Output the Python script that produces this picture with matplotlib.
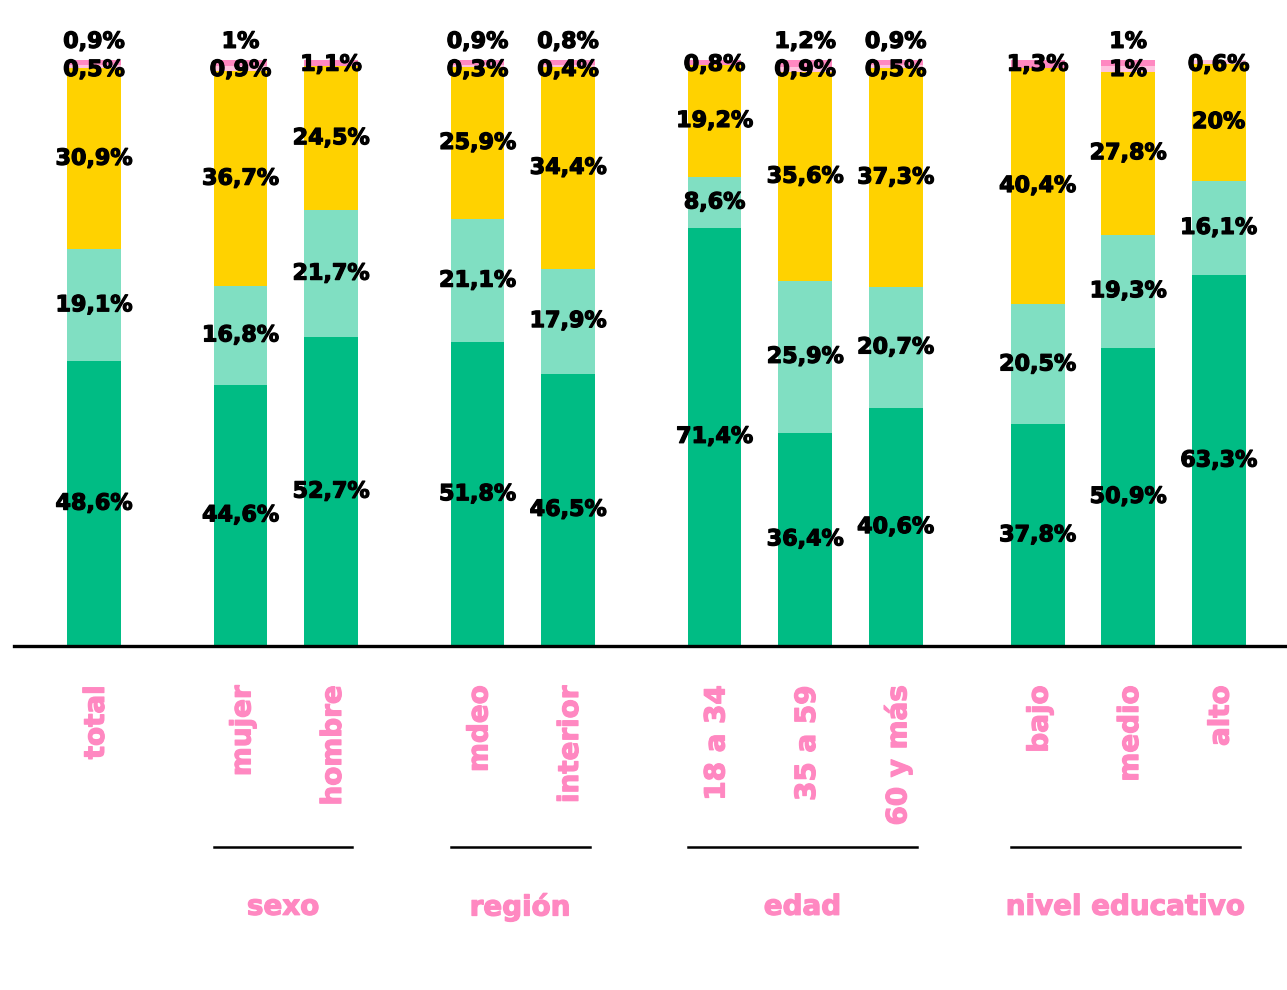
import matplotlib
matplotlib.use("Agg")
import matplotlib.pyplot as plt
import matplotlib.patheffects as pe
from matplotlib.transforms import blended_transform_factory

categories = ["total", "mujer", "hombre", "mdeo", "interior",
              "18 a 34", "35 a 59", "60 y más", "bajo", "medio", "alto"]
group_of = [None, "sexo", "sexo", "región", "región",
            "edad", "edad", "edad", "nivel educativo", "nivel educativo", "nivel educativo"]
groups = ["sexo", "región", "edad", "nivel educativo"]

s_green = [48.6, 44.6, 52.7, 51.8, 46.5, 71.4, 36.4, 40.6, 37.8, 50.9, 63.3]
s_lgreen = [19.1, 16.8, 21.7, 21.1, 17.9, 8.6, 25.9, 20.7, 20.5, 19.3, 16.1]
s_yellow = [30.9, 36.7, 24.5, 25.9, 34.4, 19.2, 35.6, 37.3, 40.4, 27.8, 20.0]
s_lpink = [0.5, 0.9, 0.0, 0.3, 0.4, 0.0, 0.9, 0.5, 0.0, 1.0, 0.6]
s_pink = [0.9, 1.0, 1.1, 0.9, 0.8, 0.8, 1.2, 0.9, 1.3, 1.0, 0.0]

series = [s_green, s_lgreen, s_yellow, s_lpink, s_pink]
colors = ["#00BC84", "#80DFC2", "#FFD200", "#FFC2DE", "#FF88C1"]
PINK = "#FF88C1"

def fmt(v):
    s = f"{v:.1f}".rstrip("0").rstrip(".")
    return s.replace(".", ",") + "%"

# positions: step 1 within a group, wider gap between groups
pos = []
x = 0.0
prev = None
for i, g in enumerate(group_of):
    if i > 0:
        if g == prev:
            x += 0.995
        else:
            x += 1.56 if g == "nivel educativo" else 1.61
    pos.append(x)
    prev = g

W, H = 1287, 990
fig = plt.figure(figsize=(W / 100, H / 100), dpi=100)
ax = fig.add_axes([14 / W, (H - 646) / H, (W - 14) / W, 586 / H])
bw = 0.59
ax.set_xlim(-0.88, 13.11)
ax.set_ylim(0, 100)

FONT = "DejaVu Sans"
VSIZE = 16.0
black_fx = [pe.withStroke(linewidth=0.9, foreground="black")]
pink_fx = [pe.withStroke(linewidth=0.9, foreground=PINK)]

def vlabel(xv, yv, s):
    ax.text(xv, yv, s, ha="center", va="center", fontsize=VSIZE, fontweight="bold",
            family=FONT, color="black", zorder=5, path_effects=black_fx)

bottoms = [0.0] * len(categories)
for k, (vals, c) in enumerate(zip(series, colors)):
    ax.bar(pos, vals, bw, bottom=bottoms, color=c, linewidth=0, zorder=2)
    if k < 3:
        for i, v in enumerate(vals):
            vlabel(pos[i], bottoms[i] + v / 2, fmt(v))
    bottoms = [b + v for b, v in zip(bottoms, vals)]

# small top segments labels
for i in range(len(categories)):
    lp, pk = s_lpink[i], s_pink[i]
    if lp > 0 and pk > 0:
        vlabel(pos[i], 98.3, fmt(lp))
        vlabel(pos[i], 103.1, fmt(pk))
    else:
        v = lp if lp > 0 else pk
        vlabel(pos[i], 99.2, fmt(v))

for sp in ["top", "right", "left"]:
    ax.spines[sp].set_visible(False)
ax.spines["bottom"].set_linewidth(2.4)
ax.spines["bottom"].set_zorder(6)
ax.set_xticks([])
ax.set_yticks([])

tr = blended_transform_factory(ax.transData, ax.transAxes)
for i, c in enumerate(categories):
    ax.text(pos[i] + 0.02, -0.067, c, rotation=90, ha="center", va="top", transform=tr,
            fontsize=20, fontweight="bold", family=FONT, color=PINK, clip_on=False,
            path_effects=pink_fx)

for g in groups:
    idx = [i for i, gg in enumerate(group_of) if gg == g]
    x0 = pos[idx[0]] - bw / 2 + 0.0
    x1 = pos[idx[-1]] + bw / 2 - 0.06
    ax.plot([x0, x1], [-0.343, -0.343], color="black", lw=1.8, transform=tr, clip_on=False)
    ax.text((x0 + x1) / 2, -0.445, g, ha="center", va="center", transform=tr,
            fontsize=20, fontweight="bold", family=FONT, color=PINK, clip_on=False,
            path_effects=pink_fx)

fig.savefig("out.png", dpi=100)
